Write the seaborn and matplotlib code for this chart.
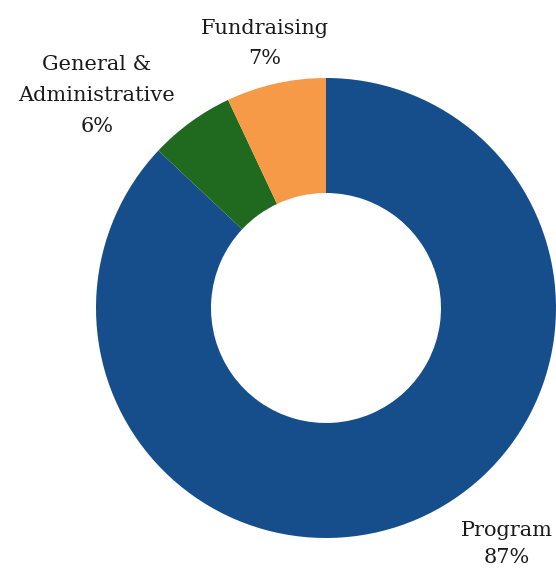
import matplotlib
matplotlib.use("Agg")
import matplotlib.pyplot as plt
import seaborn as sns

categories = ["Program", "General &\nAdministrative", "Fundraising"]
shares = [87, 6, 7]
colors = ["#154E8B", "#206A1F", "#F79A48"]

sns.set_theme(style="white")
plt.rcParams["font.family"] = ["DejaVu Serif"]

fig = plt.figure(figsize=(5.56, 5.69), dpi=100)
ax = fig.add_axes([0, 0, 1, 1])

# clockwise from the top: Program, then G&A, then Fundraising back at the top
ax.pie(shares, colors=colors, startangle=90, counterclock=False,
       wedgeprops=dict(width=0.5, linewidth=0))

# label positions in radius units, plus line spacing per label
label_pos = {
    "Program": (0.787, -1.026, 1.5),
    "Fundraising": (-0.265, 1.15, 1.8),
    "General &\nAdministrative": (-0.996, 0.925, 1.8),
}
for cat, val in zip(categories, shares):
    x, y, ls = label_pos[cat]
    ax.text(x, y, f"{cat}\n{val}%", ha="center", va="center",
            fontsize=15, color="#1a1a1a", linespacing=ls)

ax.set_aspect("auto")
ax.set_xlim(-326 / 230, (556 - 326) / 230)
ax.set_ylim(-(569 - 308) / 230, 308 / 230)
ax.axis("off")

fig.savefig("out.png", dpi=100, facecolor="white")
